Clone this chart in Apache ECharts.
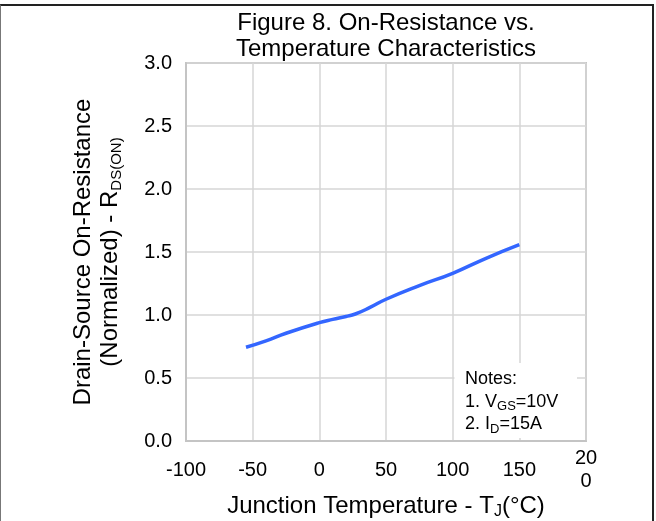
<!DOCTYPE html>
<html>
<head>
<meta charset="utf-8">
<script src="https://cdn.jsdelivr.net/npm/echarts@6/dist/echarts.min.js"></script>
<style>
html,body{margin:0;padding:0;background:#fff;}
#wrap{position:relative;width:656px;height:521px;}
#chart{position:absolute;left:0;top:0;width:656px;height:521px;}
#frame{position:absolute;left:0;top:4px;width:651px;height:515px;border-top:2px solid #222;border-right:2px solid #222;border-left:1px solid #777;pointer-events:none;}
</style>
</head>
<body>
<div id="wrap"><div id="chart"></div><div id="frame"></div></div>
<script>
var titleLines = ['Figure 8. On-Resistance vs.', 'Temperature Characteristics'];
var xTicks = [-100, -50, 0, 50, 100, 150, 200];
var xTickLabels = ['-100', '-50', '0', '50', '100', '150', '20\n0'];
var yTickLabels = ['0.0', '0.5', '1.0', '1.5', '2.0', '2.5', '3.0'];
var temperature = [-55, -40, -25, 0, 10, 20, 27, 38, 50, 75, 100, 125, 150];
var rdsOn = [0.744, 0.795, 0.855, 0.939, 0.965, 0.988, 1.008, 1.06, 1.125, 1.233, 1.331, 1.45, 1.558];
var notesLines = ['Notes:', '1. V{sub|GS}=10V', '2. I{sub|D}=15A'];

var FONT = '"Liberation Sans", Arial, sans-serif';
var chart = echarts.init(document.getElementById('chart'), null, {renderer: 'canvas'});
var points = temperature.map(function (t, i) { return [t, rdsOn[i]]; });

chart.setOption({
  backgroundColor: '#fff',
  animation: false,
  title: {
    text: titleLines.join('\n'),
    left: 386,
    top: 10,
    textAlign: 'center',
    padding: 0,
    textStyle: {fontFamily: FONT, fontSize: 24, fontWeight: 'normal', color: '#000', lineHeight: 26}
  },
  grid: {left: 186, right: 70, top: 63, bottom: 80, containLabel: false, outerBoundsMode: 'none',
    show: true, borderColor: '#c4c4c4', borderWidth: 2, backgroundColor: 'transparent'},
  xAxis: {
    type: 'value', min: xTicks[0], max: xTicks[xTicks.length - 1], interval: 50,
    name: 'Junction Temperature - T{sub|J}(°C)',
    nameLocation: 'middle', nameGap: 51, nameMoveOverlap: false,
    nameTextStyle: {fontFamily: FONT, fontSize: 24, color: '#000', lineHeight: 28,
      rich: {sub: {fontFamily: FONT, fontSize: 16, lineHeight: 18, verticalAlign: 'bottom', color: '#000'}}},
    axisLine: {onZero: false, lineStyle: {color: '#c4c4c4', width: 2}},
    axisTick: {show: false},
    splitLine: {lineStyle: {color: '#d6d6d6', width: 1.5}},
    axisLabel: {
      fontFamily: FONT, fontSize: 20, color: '#000', margin: 29, verticalAlign: 'middle', lineHeight: 23.5,
      formatter: function (v) { var i = xTicks.indexOf(v); return i >= 0 ? xTickLabels[i] : ''; }
    }
  },
  yAxis: {
    type: 'value', min: 0, max: 3, interval: 0.5,
    name: 'Drain-Source On-Resistance\n(Normalized) - R{sub|DS(ON)}',
    nameLocation: 'middle', nameRotate: 90, nameGap: 62, nameMoveOverlap: false,
    nameTextStyle: {fontFamily: FONT, fontSize: 24, color: '#000', lineHeight: 27,
      rich: {sub: {fontFamily: FONT, fontSize: 15, lineHeight: 17, verticalAlign: 'bottom', color: '#000'}}},
    axisLine: {show: true, onZero: false, lineStyle: {color: '#c4c4c4', width: 2}},
    axisTick: {show: false},
    splitLine: {lineStyle: {color: '#d6d6d6', width: 1.5}},
    axisLabel: {
      fontFamily: FONT, fontSize: 20, color: '#000', margin: 14,
      formatter: function (v) { return yTickLabels[Math.round(v / 0.5)]; }
    }
  },
  series: [{
    type: 'line',
    data: points,
    smooth: 0.5,
    showSymbol: false,
    lineStyle: {color: '#3366ff', width: 3.5},
    z: 2
  }],
  graphic: [
    {type: 'rect', shape: {x: 454.5, y: 363, width: 122.5, height: 75}, style: {fill: '#fff'}, z: 100},
    {type: 'text', x: 465, y: 368, z: 101,
      style: {
        text: notesLines.join('\n'),
        font: '18px ' + FONT, fill: '#000', lineHeight: 22.5,
        rich: {sub: {fontFamily: FONT, fontSize: 13, lineHeight: 15, verticalAlign: 'bottom', fill: '#000'}}
      }}
  ]
});
</script>
</body>
</html>
